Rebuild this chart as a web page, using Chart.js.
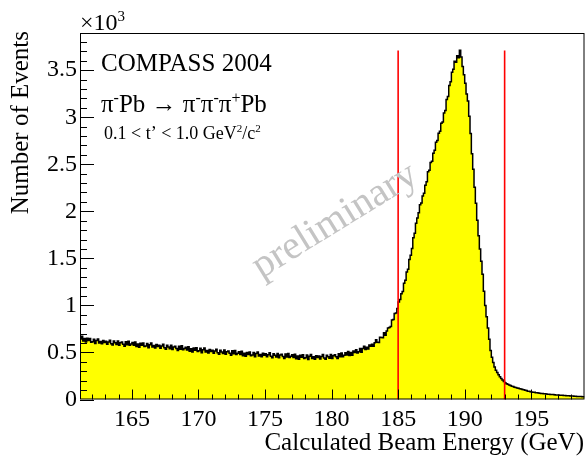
<!DOCTYPE html>
<html>
<head>
<meta charset="utf-8">
<script src="https://cdn.jsdelivr.net/npm/chart.js@4.4.1/dist/chart.umd.min.js"></script>
<style>
  html, body { margin: 0; padding: 0; background: #ffffff; }
  canvas { display: block; }
</style>
</head>
<body>
<canvas id="myChart" width="586" height="459"></canvas>
<script>
// histogram: calculated beam energy, bins of 0.1 GeV starting at 161.1 GeV
// one row = 1 GeV
var binStart = 161.1;
var binWidth = 0.1;
var counts = [
  673, 642, 672, 623, 648, 611, 650, 627, 649, 608,
  613, 640, 594, 626, 643, 601, 617, 592, 627, 606,
  620, 588, 611, 631, 593, 579, 621, 603, 585, 622,
  577, 604, 612, 588, 567, 614, 582, 618, 576, 589,
  606, 577, 610, 563, 590, 556, 597, 576, 601, 562,
  569, 596, 550, 583, 600, 558, 573, 548, 584, 563,
  577, 545, 568, 587, 549, 535, 577, 559, 540, 577,
  532, 559, 566, 542, 521, 567, 535, 571, 528, 541,
  556, 527, 560, 512, 539, 505, 546, 524, 549, 510,
  517, 544, 498, 530, 547, 505, 521, 495, 531, 510,
  524, 492, 515, 535, 497, 482, 524, 506, 488, 525,
  480, 507, 515, 491, 470, 517, 485, 521, 479, 492,
  508, 479, 512, 465, 492, 459, 500, 479, 504, 465,
  473, 500, 454, 488, 505, 463, 479, 455, 491, 470,
  485, 453, 476, 497, 459, 445, 487, 470, 452, 489,
  445, 472, 481, 457, 436, 484, 452, 488, 447, 460,
  476, 447, 481, 434, 462, 428, 470, 449, 475, 436,
  444, 472, 426, 460, 478, 437, 453, 429, 466, 446,
  462, 431, 456, 477, 440, 428, 471, 455, 438, 477,
  435, 465, 475, 454, 435, 485, 455, 494, 454, 470,
  496, 472, 510, 467, 499, 470, 516, 500, 529, 495,
  508, 542, 503, 543, 567, 532, 555, 537, 580, 566,
  588, 567, 602, 634, 608, 606, 662, 659, 656, 709,
  684, 728, 759, 765, 776, 844, 851, 914, 918, 966,
  1036, 1062, 1124, 1148, 1236, 1268, 1356, 1383, 1488, 1532,
  1605, 1718, 1766, 1874, 1930, 1985, 2071, 2088, 2163, 2191,
  2278, 2315, 2421, 2437, 2520, 2532, 2618, 2649, 2735, 2752,
  2830, 2851, 2935, 2948, 3046, 3072, 3188, 3221, 3338, 3376,
  3478, 3509, 3594, 3583, 3652, 3631, 3712, 3640, 3538, 3452,
  3362, 3248, 3171, 3010, 2826, 2611, 2447, 2255, 2086, 1904,
  1740, 1600, 1470, 1330, 1150, 1000, 880, 760, 640, 520,
  450, 392, 346, 312, 286, 262, 241, 222, 206, 190,
  179, 168, 163, 154, 149, 141, 138, 131, 128, 121,
  119, 113, 111, 105, 103, 97, 95, 89, 88, 83,
  81, 78, 76, 72, 71, 68, 67, 64, 63, 61,
  60, 58, 57, 56, 54, 53, 52, 50, 49, 48,
  47, 46, 45, 44, 43, 42, 41, 40, 39, 38,
  37, 36, 35, 34, 33, 32, 31, 31, 30
];
var xTicks = [165, 170, 175, 180, 185, 190, 195];
var yTicks = [0, 500, 1000, 1500, 2000, 2500, 3000, 3500];
var xRange = [161.1, 199];
var yRange = [0, 3895];
var cutLow = 185;
var cutHigh = 193;
var cutTop = 3710;

var serif = '"Liberation Serif", "DejaVu Serif", serif';

function histPoints() {
  var pts = [];
  for (var i = 0; i < counts.length; i++) {
    pts.push({ x: binStart + i * binWidth, y: counts[i] });
  }
  pts.push({ x: binStart + counts.length * binWidth, y: counts[counts.length - 1] });
  return pts;
}

// draws a run of text with superscripts, left to right
function richText(ctx, parts, x, y, size) {
  var cx = x;
  for (var i = 0; i < parts.length; i++) {
    var p = parts[i];
    if (p.sup) {
      ctx.font = Math.round(size * 0.62) + 'px ' + serif;
      ctx.fillText(p.t, cx, y - size * 0.38);
    } else {
      ctx.font = size + 'px ' + serif;
      ctx.fillText(p.t, cx, y);
    }
    cx += ctx.measureText(p.t).width;
  }
}

var rootStyle = {
  id: 'rootStyle',
  afterDatasetsDraw: function(chart) {
    var ctx = chart.ctx;
    var a = chart.chartArea;
    var xs = chart.scales.x;
    var ys = chart.scales.y;
    ctx.save();
    ctx.strokeStyle = '#000000';
    ctx.lineWidth = 1;
    ctx.beginPath();
    // x ticks, major every 5, minor every 1
    for (var v = 162; v <= 198; v++) {
      var px = Math.round(xs.getPixelForValue(v)) + 0.5;
      var len = (v % 5 === 0) ? 10 : 5;
      ctx.moveTo(px, a.bottom);
      ctx.lineTo(px, a.bottom - len);
    }
    // y ticks, major every 500, minor every 100
    for (var w = 0; w <= 3800; w += 100) {
      var py = Math.round(ys.getPixelForValue(w)) + 0.5;
      var ln = (w % 500 === 0) ? 14 : 7;
      ctx.moveTo(a.left, py);
      ctx.lineTo(a.left + ln, py);
    }
    ctx.stroke();
    ctx.strokeRect(a.left + 0.5, a.top + 0.5, a.right - a.left - 1, a.bottom - a.top - 1);
    ctx.restore();
  },
  afterDraw: function(chart) {
    var ctx = chart.ctx;
    var a = chart.chartArea;
    ctx.save();
    ctx.fillStyle = '#000000';
    ctx.textBaseline = 'alphabetic';
    ctx.textAlign = 'left';

    // exponent label
    richText(ctx, [{ t: '\u00d710' }, { t: '3', sup: true }], a.left, 30, 24);

    // annotations
    ctx.font = '25px ' + serif;
    ctx.fillText('COMPASS 2004', 101, 71);
    richText(ctx, [
      { t: '\u03c0' }, { t: '-', sup: true }, { t: 'Pb \u2192 \u03c0' },
      { t: '-', sup: true }, { t: '\u03c0' }, { t: '-', sup: true },
      { t: '\u03c0' }, { t: '+', sup: true }, { t: 'Pb' }
    ], 101, 112, 25);
    richText(ctx, [
      { t: '0.1 < t\u2019 < 1.0 GeV' }, { t: '2', sup: true }, { t: '/c' }, { t: '2', sup: true }
    ], 104, 139, 18);

    // axis titles
    ctx.font = '25px ' + serif;
    ctx.textAlign = 'right';
    ctx.fillText('Calculated Beam Energy (GeV)', 584, 450);
    ctx.save();
    ctx.translate(28, 31);
    ctx.rotate(-Math.PI / 2);
    ctx.fillText('Number of Events', 0, 0);
    ctx.restore();

    // watermark
    ctx.save();
    ctx.translate(335, 221);
    ctx.rotate(-31.7 * Math.PI / 180);
    ctx.textAlign = 'center';
    ctx.textBaseline = 'middle';
    ctx.fillStyle = '#c4c4c4';
    ctx.font = '40px ' + serif;
    ctx.fillText('preliminary', 0, 0);
    ctx.restore();

    ctx.restore();
  }
};

function draw() {
  var ctx = document.getElementById('myChart').getContext('2d');
  var config = {
    type: 'line',
    data: {
      datasets: [{
        data: histPoints(),
        borderColor: '#000000',
        borderWidth: 1.5,
        backgroundColor: '#ffff00',
        fill: 'origin',
        stepped: 'after',
        pointRadius: 0,
        order: 2
      }, {
        data: [{ x: cutLow, y: 0 }, { x: cutLow, y: cutTop }],
        borderColor: '#ff0000',
        borderWidth: 1.6,
        fill: false,
        pointRadius: 0,
        order: 1
      }, {
        data: [{ x: cutHigh, y: 0 }, { x: cutHigh, y: cutTop }],
        borderColor: '#ff0000',
        borderWidth: 1.6,
        fill: false,
        pointRadius: 0,
        order: 1
      }]
    },
    options: {
      responsive: false,
      animation: false,
      events: [],
      layout: { padding: { top: 33, right: 1.5, left: 0, bottom: 0 } },
      plugins: { legend: { display: false }, tooltip: { enabled: false } },
      scales: {
        x: {
          type: 'linear',
          min: xRange[0],
          max: xRange[1],
          border: { display: false },
          grid: { display: false, drawTicks: false },
          afterBuildTicks: function(scale) {
            scale.ticks = xTicks.map(function(v) { return { value: v }; });
          },
          afterFit: function(scale) { scale.height = 59.5; },
          ticks: {
            color: '#000000',
            padding: 6,
            maxRotation: 0,
            autoSkip: false,
            font: { family: serif, size: 24 },
            callback: function(v) { return String(v); }
          }
        },
        y: {
          type: 'linear',
          min: yRange[0],
          max: yRange[1],
          border: { display: false },
          grid: { display: false, drawTicks: false },
          afterBuildTicks: function(scale) {
            scale.ticks = yTicks.map(function(v) { return { value: v }; });
          },
          afterFit: function(scale) { scale.width = 80; },
          ticks: {
            color: '#000000',
            padding: 3,
            autoSkip: false,
            font: { family: serif, size: 24 },
            callback: function(v) { return String(v / 1000); }
          }
        }
      }
    },
    plugins: [rootStyle]
  };
  var myChart = new Chart(ctx, config);
}

window.onload = function() {
  draw();
};
</script>
</body>
</html>
